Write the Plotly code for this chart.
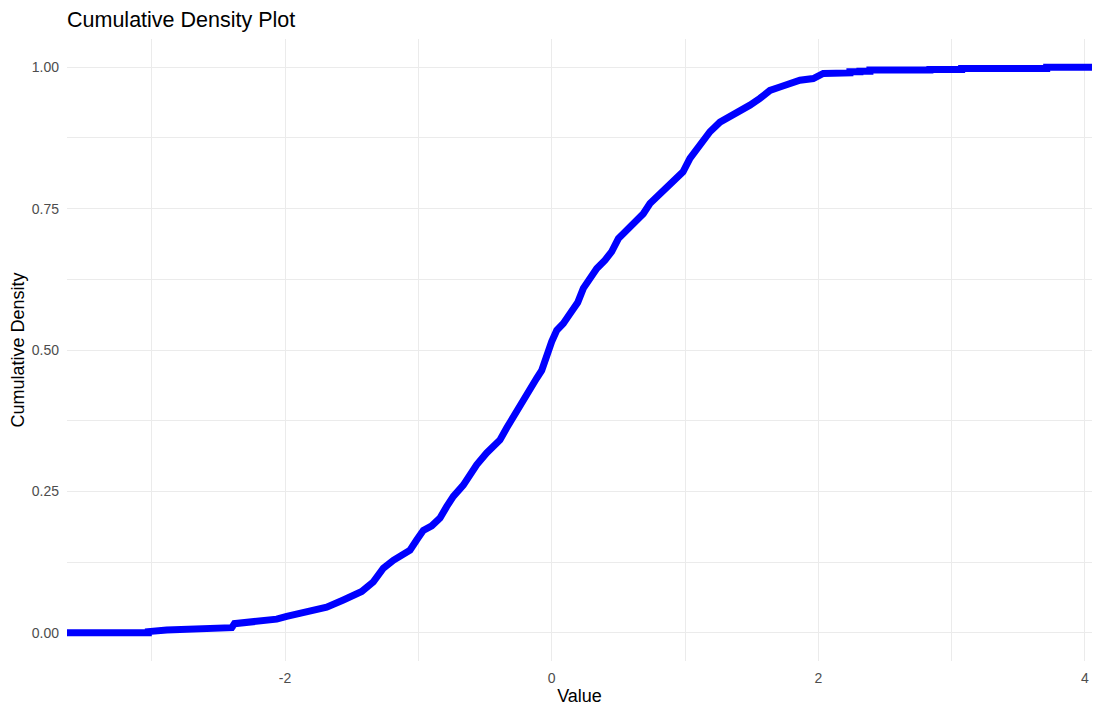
"""Cumulative density (ECDF) chart."""

import plotly.graph_objects as go

# values
values = [-3.70, -3.026, -3.026, -2.888, -2.688, -2.40, -2.38, -2.213, -2.063,
          -1.988, -1.838, -1.688, -1.563, -1.425, -1.338, -1.263, -1.188, -1.113,
          -1.063, -1.013, -0.963, -0.900, -0.838, -0.788, -0.738, -0.663, -0.613,
          -0.563, -0.488, -0.388, -0.338, -0.288, -0.251, -0.200, -0.163, -0.113,
          -0.075, -0.038, 0.000, 0.038, 0.087, 0.137, 0.195, 0.237, 0.287, 0.338,
          0.400, 0.450, 0.500, 0.550, 0.625, 0.687, 0.737, 0.788, 0.863, 0.938,
          0.985, 1.037, 1.112, 1.187, 1.262, 1.337, 1.412, 1.487, 1.562, 1.637,
          1.712, 1.787, 1.862, 1.962, 2.037, 2.237, 2.237, 2.312, 2.312, 2.387,
          2.387, 2.837, 2.837, 3.075, 3.075, 3.713, 3.713, 4.10]
cum_density = [0.000, 0.000, 0.002, 0.005, 0.007, 0.009, 0.016, 0.020, 0.024,
               0.029, 0.038, 0.045, 0.058, 0.073, 0.090, 0.114, 0.128, 0.137,
               0.146, 0.164, 0.181, 0.189, 0.203, 0.223, 0.241, 0.261, 0.282,
               0.297, 0.318, 0.341, 0.362, 0.382, 0.400, 0.417, 0.435, 0.450,
               0.464, 0.491, 0.515, 0.535, 0.547, 0.564, 0.584, 0.609, 0.626, 0.644,
               0.659, 0.674, 0.697, 0.709, 0.730, 0.741, 0.759, 0.771, 0.788, 0.805,
               0.815, 0.839, 0.862, 0.886, 0.903, 0.912, 0.924, 0.933, 0.945, 0.959,
               0.965, 0.971, 0.977, 0.980, 0.989, 0.990, 0.992, 0.992, 0.993, 0.993,
               0.995, 0.995, 0.996, 0.996, 0.998, 0.998, 1.000, 1.000]

x_ticks = [-2, 0, 2, 4]
x_minor = [-3, -1, 1, 3]
y_ticks = [0.0, 0.25, 0.5, 0.75, 1.0]
y_labels = ["0.00", "0.25", "0.50", "0.75", "1.00"]
y_minor = [0.125, 0.375, 0.625, 0.875]

GRID = "#EBEBEB"
FONT = "Liberation Sans, Arial, sans-serif"

fig = go.Figure(go.Scatter(
    x=values, y=cum_density, mode="lines",
    line={"color": "#0000FF", "width": 7},
    hoverinfo="skip", showlegend=False,
))

# the page body adds an 8px offset, so margins are shifted to compensate
fig.update_layout(
    width=1102, height=717,
    margin={"l": 59, "r": 18, "t": 31, "b": 64},
    paper_bgcolor="white", plot_bgcolor="white",
    font={"family": FONT, "color": "#000000"},
    title={"text": "Cumulative Density Plot", "x": 0, "xref": "paper", "xanchor": "left",
           "y": 1 - 11 / 717, "yref": "container", "yanchor": "middle",
           "font": {"size": 21.5, "color": "#000000"}},
    xaxis={
        "range": [-3.636, 4.053], "tickvals": x_ticks, "ticktext": [str(v) for v in x_ticks],
        "showgrid": True, "gridcolor": GRID, "gridwidth": 1, "zeroline": False,
        "showline": False, "ticks": "", "ticklabelstandoff": 7, "automargin": False,
        "tickfont": {"size": 14, "color": "#4D4D4D"},
        "title": {"text": "Value", "font": {"size": 18, "color": "#000000"}, "standoff": 4},
        "minor": {"tickvals": x_minor, "showgrid": True, "gridcolor": GRID, "gridwidth": 1},
    },
    yaxis={
        "range": [-0.05, 1.05], "tickvals": y_ticks, "ticktext": y_labels,
        "showgrid": True, "gridcolor": GRID, "gridwidth": 1, "zeroline": False,
        "showline": False, "ticks": "", "ticklabelstandoff": 7, "automargin": False,
        "tickfont": {"size": 14, "color": "#4D4D4D"},
        "title": {"text": "Cumulative Density", "font": {"size": 18, "color": "#000000"}, "standoff": 2},
        "minor": {"tickvals": y_minor, "showgrid": True, "gridcolor": GRID, "gridwidth": 1},
    },
)

fig.write_html("out.html")
